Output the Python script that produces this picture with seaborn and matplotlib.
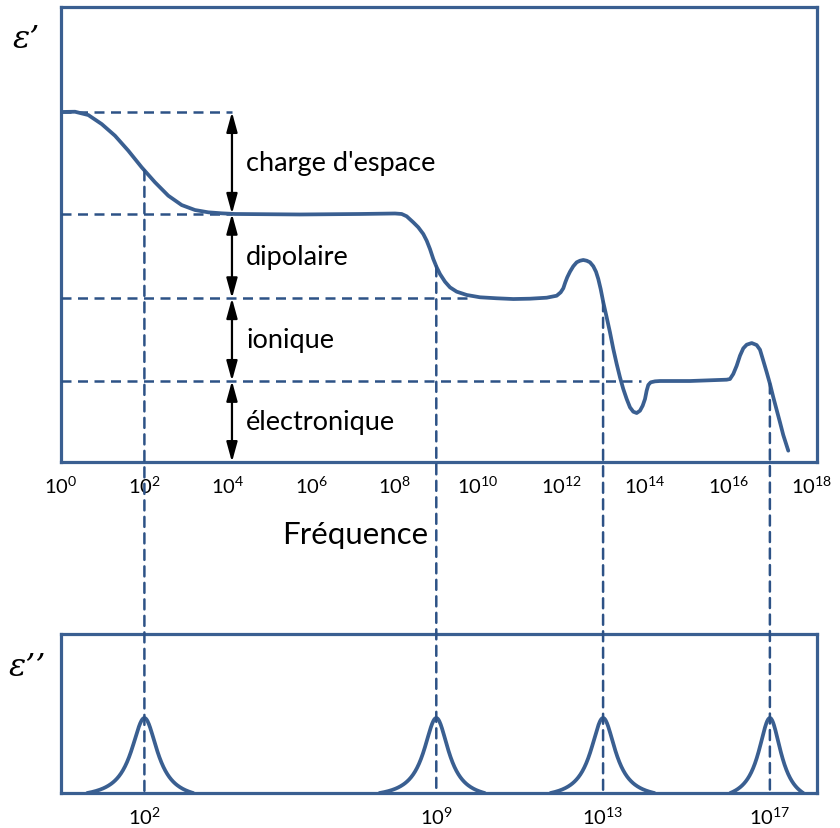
import numpy as np
import pandas as pd
import matplotlib
matplotlib.use("Agg")
import matplotlib.pyplot as plt
from matplotlib.patches import ConnectionPatch
import seaborn as sns

# ---- data -------------------------------------------------------------
# real permittivity eps' vs log10(frequency)
log_freq = [0.000, 0.336, 0.655, 0.976, 1.295, 1.614, 1.935, 2.254, 2.573, 2.894,
            3.213, 3.532, 3.854, 4.173, 5.731, 7.170, 8.010, 8.170, 8.290, 8.448,
            8.568, 8.688, 8.770, 8.849, 8.928, 9.010, 9.089, 9.209, 9.329, 9.489,
            9.729, 10.048, 10.448, 10.847, 11.247, 11.647, 11.887, 11.983, 12.046,
            12.094, 12.141, 12.206, 12.285, 12.367, 12.446, 12.525, 12.607, 12.686,
            12.765, 12.830, 12.885, 12.942, 13.005, 13.086, 13.165, 13.245, 13.326,
            13.405, 13.484, 13.566, 13.645, 13.724, 13.806, 13.885, 13.950, 14.005,
            14.045, 14.084, 14.141, 14.245, 14.365, 15.084, 15.964, 16.043, 16.122,
            16.204, 16.283, 16.362, 16.444, 16.564, 16.683, 16.763, 16.842, 16.924,
            17.003, 17.082, 17.163, 17.242, 17.321, 17.441]
eps_real = [4.231, 4.234, 4.194, 4.085, 3.944, 3.763, 3.562, 3.381, 3.219, 3.106,
            3.046, 3.018, 3.006, 2.998, 2.992, 2.998, 3.004, 2.998, 2.970, 2.897,
            2.837, 2.756, 2.675, 2.574, 2.454, 2.353, 2.272, 2.179, 2.111, 2.059,
            2.019, 1.991, 1.979, 1.970, 1.974, 1.986, 2.010, 2.051, 2.100,
            2.172, 2.233, 2.300, 2.366, 2.414, 2.433, 2.442, 2.433, 2.414,
            2.366, 2.300, 2.212, 2.091, 1.930, 1.749, 1.568, 1.366, 1.185,
            1.024, 0.883, 0.761, 0.661, 0.608, 0.592, 0.620, 0.681, 0.761,
            0.862, 0.931, 0.963, 0.975, 0.979, 0.979, 0.995, 1.003, 1.064,
            1.164, 1.285, 1.374, 1.418, 1.438, 1.414, 1.357, 1.224, 1.084,
            0.943, 0.782, 0.629, 0.480, 0.326, 0.137]

# polarisation contributions (plateau levels) and their names
levels = [4.23, 3.0, 1.98, 0.98]
level_ends = [4.1, 4.1, 9.8, 13.9]          # log10 f where each dashed guide stops
mechanisms = ["charge d'espace", "dipolaire", "ionique", "électronique"]

# loss peaks eps'' : position (log10 f), height, half width, extent left/right
peak_pos = [2, 9, 13, 17]
peak_height = [1.0, 1.0, 1.0, 1.0]
peak_hwhm = [0.38, 0.36, 0.36, 0.33]
peak_left = [1.37, 1.36, 1.26, 0.95]
peak_right = [1.17, 1.16, 1.23, 0.80]

tick_exp = list(range(0, 19, 2))
inner_tick_exp = [6, 8, 10, 12, 14, 16]

# ---- style ------------------------------------------------------------
sns.set_theme(style="white")
plt.rcParams["font.family"] = ["Lato", "DejaVu Sans"]
plt.rcParams["mathtext.fontset"] = "custom"
plt.rcParams["mathtext.rm"] = "Lato"
plt.rcParams["mathtext.it"] = "Lato:italic"

BLUE = "#3A5F91"
DASH = "#2D5286"
LW_AX = 2.3

fig = plt.figure(figsize=(8.4, 8.29), dpi=100)
W, H = 840, 829
ax1 = fig.add_axes([61 / W, 1 - 463 / H, 756 / W, 455 / H])
ax2 = fig.add_axes([61 / W, 1 - 794 / H, 756 / W, 159 / H])

XMAX = 18.13
for ax in (ax1, ax2):
    ax.set_xscale("log")
    ax.set_xlim(1, 10 ** XMAX)
    for s in ax.spines.values():
        s.set_color(BLUE)
        s.set_linewidth(LW_AX)
    ax.set_yticks([])
    ax.set_facecolor("white")

ax1.set_ylim(0, 5.5)
ax2.set_ylim(0, 2.12)

# ---- top panel: eps' -----------------------------------------------------
df = pd.DataFrame({"f": 10.0 ** np.array(log_freq), "eps": eps_real})
sns.lineplot(data=df, x="f", y="eps", ax=ax1, color=BLUE, lw=2.7,
             sort=False, estimator=None, zorder=4)

dash_kw = dict(color=DASH, lw=1.8, dashes=(4, 2.6))
for lv, end in zip(levels, level_ends):
    ax1.plot([1, 10 ** end], [lv, lv], zorder=3, **dash_kw)

# double arrows between successive plateaus
arrow_x = 10 ** 4.1
bounds = levels + [0.0]
for top, bot in zip(bounds[:-1], bounds[1:]):
    ax1.annotate("", xy=(arrow_x, bot), xytext=(arrow_x, top),
                 arrowprops=dict(arrowstyle="<|-|>,head_length=1.2,head_width=0.33",
                                 mutation_scale=10, color="black", lw=1.6,
                                 shrinkA=0, shrinkB=0), zorder=5)

for name, top, bot in zip(mechanisms, bounds[:-1], bounds[1:]):
    ax1.text(10 ** 4.44, (top + bot) / 2, name, fontsize=19.5, ha="left",
             va="center", color="black")

ax1.set_xticks([10.0 ** k for k in tick_exp],
               labels=[rf"$\mathregular{{10^{{{k}}}}}$" for k in tick_exp])
ax1.set_xticks([10.0 ** k for k in inner_tick_exp], minor=True)
ax1.tick_params(axis="x", which="major", length=0, pad=9, labelsize=14.5,
                labelcolor="black")
ax1.tick_params(axis="x", which="minor", direction="in", length=13.5,
                width=LW_AX, color=BLUE, bottom=True)
ax1.set_xlabel("")
ax1.set_ylabel("")

fig.text(355 / W, 1 - 535 / H, "Fréquence", fontsize=22.5, ha="center",
         va="center", color="black")

# ---- bottom panel: eps'' -------------------------------------------------
for c, h, g, left, right in zip(peak_pos, peak_height, peak_hwhm, peak_left, peak_right):
    xs = np.linspace(c - left, c + right, 161)
    lor = 1.0 / (1.0 + ((xs - c) / g) ** 2)
    edge = np.where(xs < c, 1.0 / (1.0 + (left / g) ** 2), 1.0 / (1.0 + (right / g) ** 2))
    ys = h * (lor - edge) / (1.0 - edge)
    pk = pd.DataFrame({"f": 10.0 ** xs, "eps2": ys})
    sns.lineplot(data=pk, x="f", y="eps2", ax=ax2, color=BLUE, lw=2.7,
                 sort=False, estimator=None, zorder=4)

ax2.set_xticks([10.0 ** k for k in peak_pos],
               labels=[rf"$\mathregular{{10^{{{k}}}}}$" for k in peak_pos])
ax2.set_xticks([], minor=True)
ax2.tick_params(axis="x", which="major", length=0, pad=9, labelsize=14.5,
                labelcolor="black")
ax2.set_xlabel("")
ax2.set_ylabel("")

# vertical guides from the eps' curve down to the eps'' peaks
for c in peak_pos:
    y_top = float(np.interp(c, log_freq, eps_real))
    con = ConnectionPatch(xyA=(10.0 ** c, y_top), coordsA=ax1.transData,
                          xyB=(10.0 ** c, 0), coordsB=ax2.transData,
                          color=DASH, lw=1.8, linestyle=(0, (4, 2.6)), zorder=3)
    fig.add_artist(con)

fig.text(26 / W, 1 - 40 / H, "ε’", fontsize=23, family="DejaVu Serif",
         style="italic", ha="center", va="center", color="black")
fig.text(27 / W, 1 - 668 / H, "ε’’", fontsize=23, family="DejaVu Serif",
         style="italic", ha="center", va="center", color="black")

fig.savefig("out.png", dpi=100)
